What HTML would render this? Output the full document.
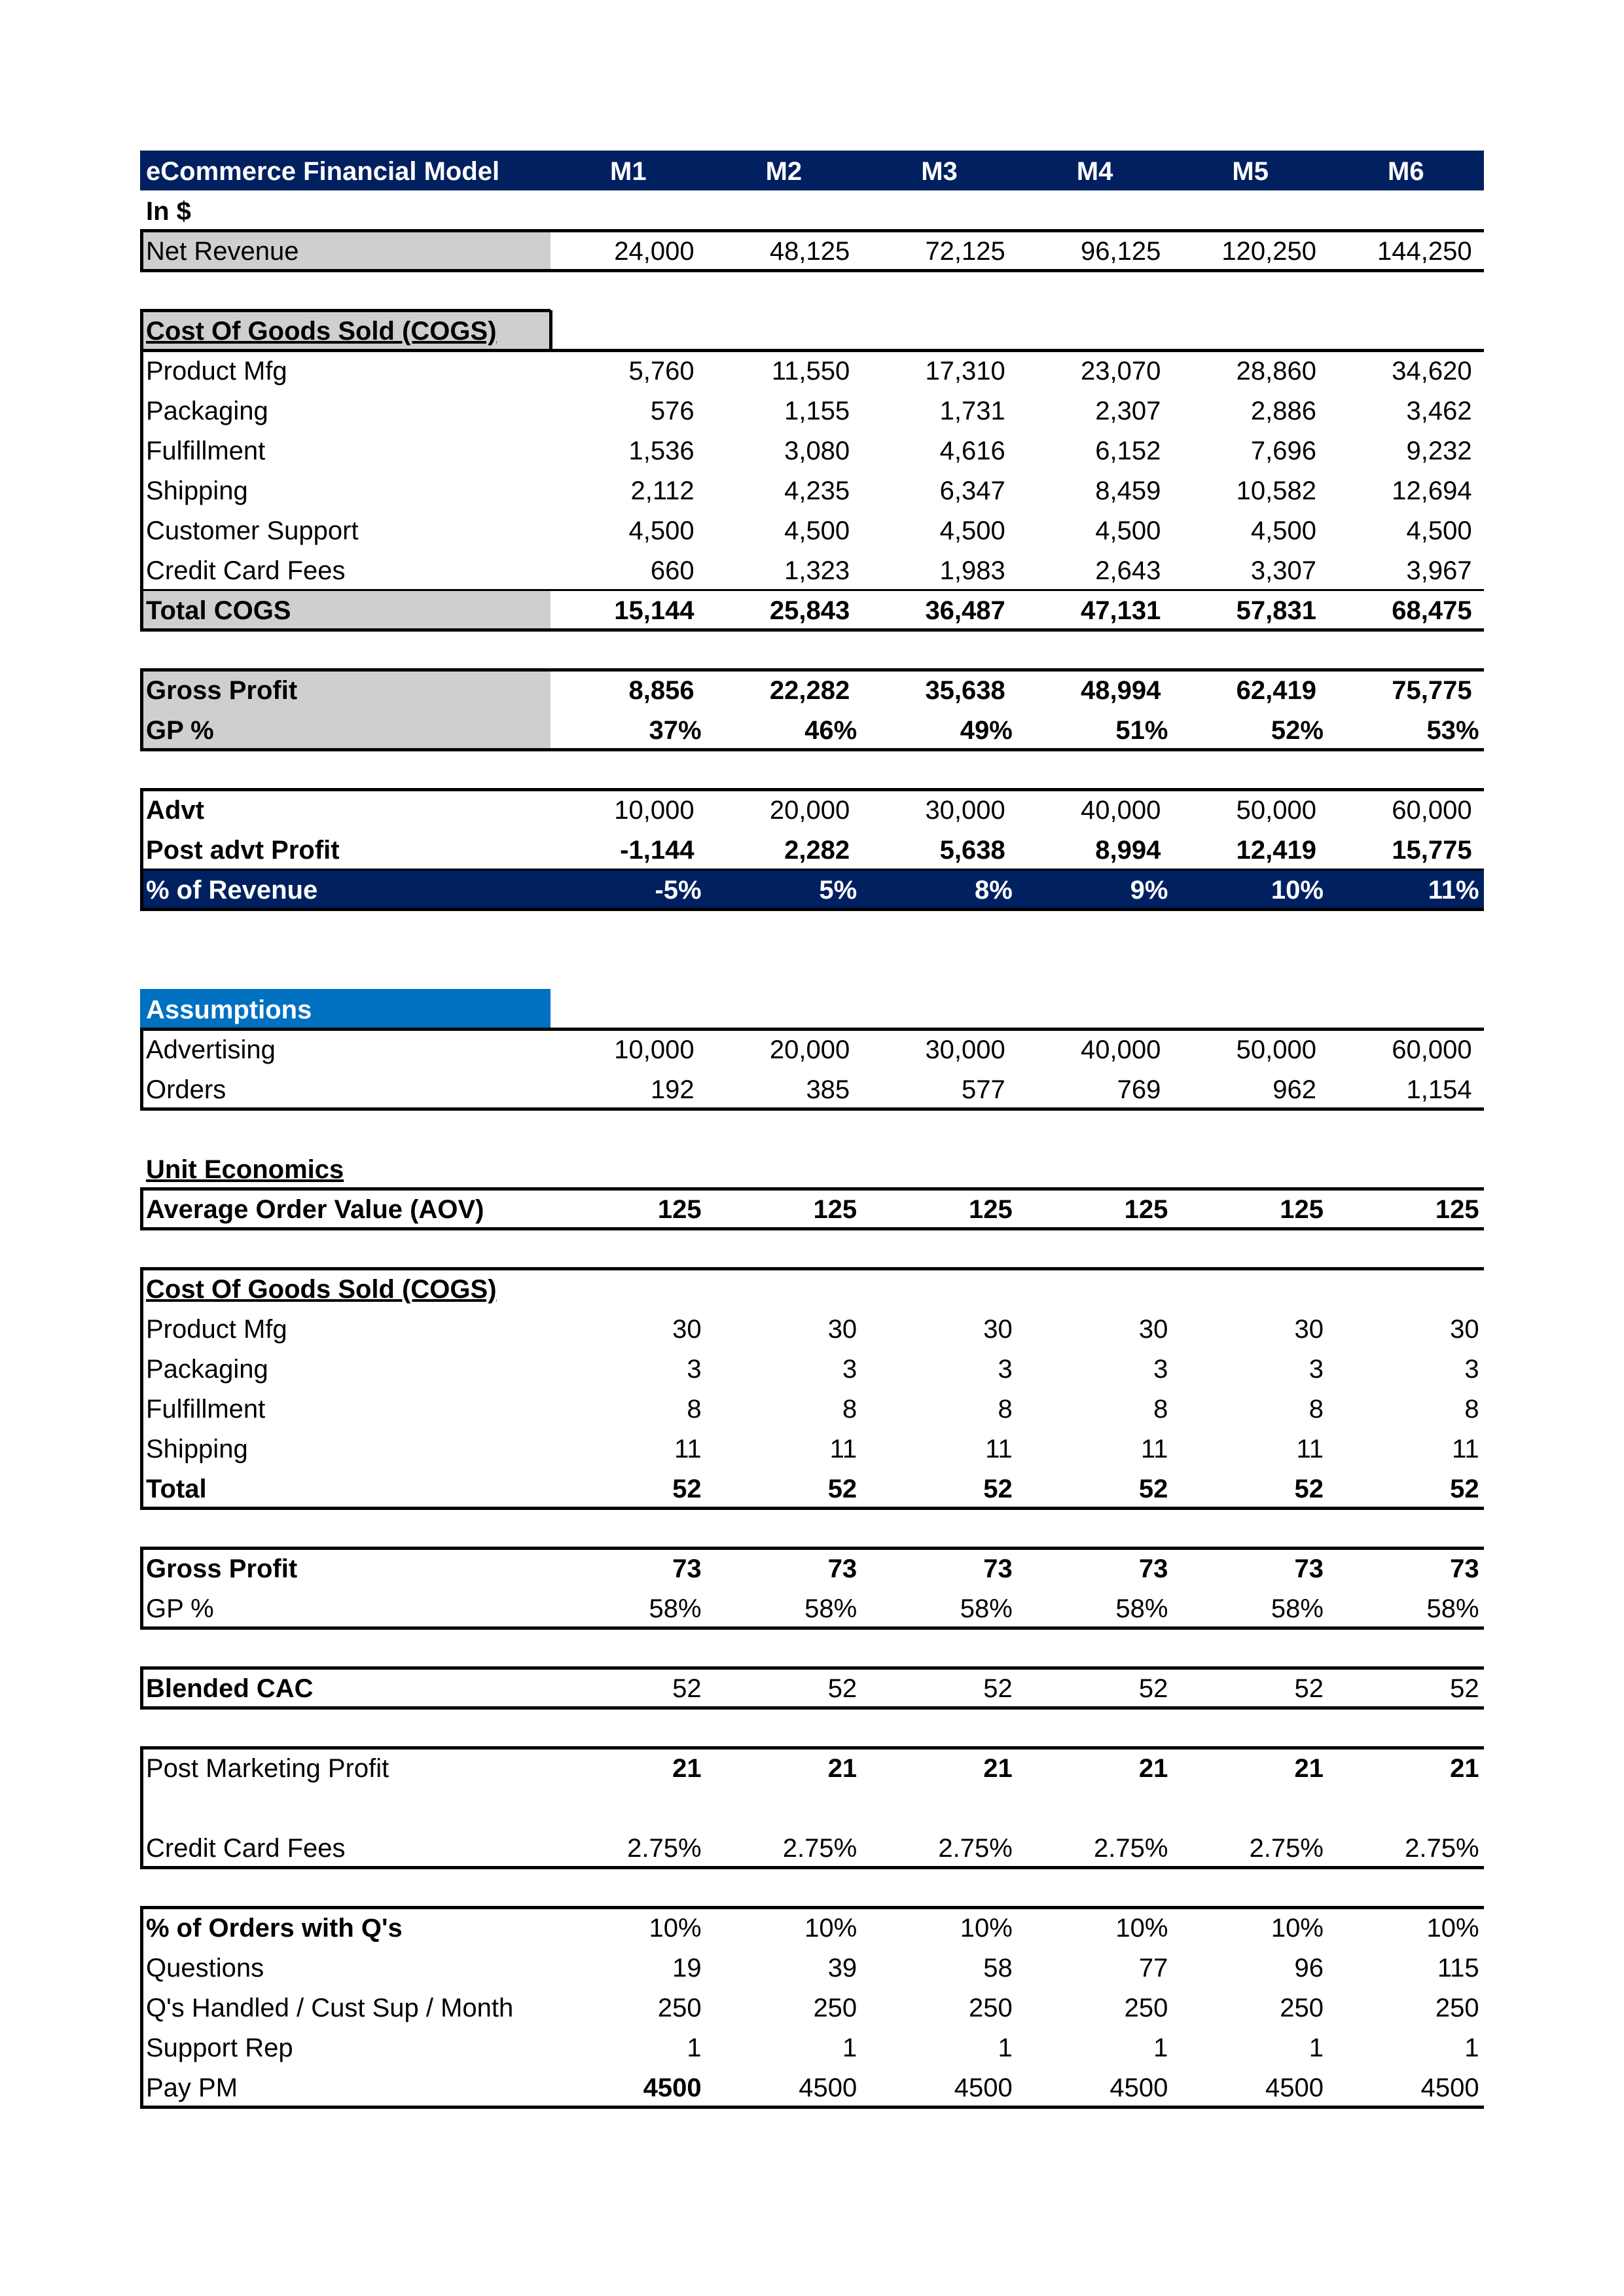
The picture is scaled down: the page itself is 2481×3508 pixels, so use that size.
<!DOCTYPE html>
<html><head><meta charset="utf-8">
<style>
html,body{margin:0;padding:0;background:#fff;}
#sheet{position:relative;width:2481px;height:3508px;overflow:hidden;font-family:"Liberation Sans",Arial,sans-serif;font-size:40px;color:#000;}
.cell{position:absolute;height:61px;line-height:61px;white-space:nowrap;box-sizing:border-box;padding-top:2px;}
.lab{padding-left:9px;}
.num{text-align:right;}
.hl{position:absolute;background:#000;}
.bg{position:absolute;}
</style></head>
<body>
<div id="sheet"></div>
<script>
const months = ["M1","M2","M3","M4","M5","M6"];
const netRevenue = [24000,48125,72125,96125,120250,144250];
const productMfg = [5760,11550,17310,23070,28860,34620];
const packaging = [576,1155,1731,2307,2886,3462];
const fulfillment = [1536,3080,4616,6152,7696,9232];
const shipping = [2112,4235,6347,8459,10582,12694];
const customerSupport = [4500,4500,4500,4500,4500,4500];
const creditCardFees = [660,1323,1983,2643,3307,3967];
const totalCogs = [15144,25843,36487,47131,57831,68475];
const grossProfit = [8856,22282,35638,48994,62419,75775];
const gpPct = ["37%","46%","49%","51%","52%","53%"];
const advt = [10000,20000,30000,40000,50000,60000];
const postAdvtProfit = [-1144,2282,5638,8994,12419,15775];
const pctRevenue = ["-5%","5%","8%","9%","10%","11%"];
const advertising = [10000,20000,30000,40000,50000,60000];
const orders = [192,385,577,769,962,1154];
const aov = [125,125,125,125,125,125];
const uProductMfg = [30,30,30,30,30,30];
const uPackaging = [3,3,3,3,3,3];
const uFulfillment = [8,8,8,8,8,8];
const uShipping = [11,11,11,11,11,11];
const uTotal = [52,52,52,52,52,52];
const uGrossProfit = [73,73,73,73,73,73];
const uGpPct = ["58%","58%","58%","58%","58%","58%"];
const blendedCac = [52,52,52,52,52,52];
const postMarketingProfit = [21,21,21,21,21,21];
const ccFeePct = ["2.75%","2.75%","2.75%","2.75%","2.75%","2.75%"];
const pctOrdersQ = ["10%","10%","10%","10%","10%","10%"];
const questions = [19,39,58,77,96,115];
const qHandled = [250,250,250,250,250,250];
const supportRep = [1,1,1,1,1,1];
const payPm = [4500,4500,4500,4500,4500,4500];

const S = document.getElementById('sheet');
const X0=214, LABW=627, COLW=237.6, Y0=230, RH=61, XR=2267;
function rowY(i){return Y0+RH*i;}
function fmt(v,comma){ if(typeof v==='string') return v; return comma? v.toLocaleString('en-US') : String(v);}
function slug(s){return s.toLowerCase().replace(/[^a-z0-9]+/g,'-').replace(/^-|-$/g,'');}

function bg(i,x,w,color,n){
  const d=document.createElement('div'); d.className='bg';
  d.style.left=x+'px'; d.style.top=rowY(i)+'px'; d.style.width=w+'px'; d.style.height=RH+'px'; d.style.background=color;
  
  
  S.appendChild(d);
}
function hline(y,x1,x2,t,n){
  const d=document.createElement('div'); d.className='hl';
  d.style.left=x1+'px'; d.style.top=(y-Math.floor(t/2))+'px'; d.style.width=(x2-x1)+'px'; d.style.height=t+'px';
  
  
  S.appendChild(d);
}
function vline(x,y1,y2,t,n){
  const d=document.createElement('div'); d.className='hl';
  d.style.left=x+'px'; d.style.top=y1+'px'; d.style.width=t+'px'; d.style.height=(y2-y1)+'px';
  
  
  S.appendChild(d);
}
function label(i,text,opt){
  opt=opt||{};
  const d=document.createElement('div'); d.className='cell lab';
  d.style.left=X0+'px'; d.style.top=rowY(i)+'px'; d.style.width=LABW+'px';
  if(opt.bold) d.style.fontWeight='bold';
  if(opt.u) d.style.textDecoration='underline';
  if(opt.color) d.style.color=opt.color;
  d.textContent=text;
  
  
  S.appendChild(d);
}
function values(i,arr,name,opt){
  opt=opt||{};
  arr.forEach((v,k)=>{
    const d=document.createElement('div'); d.className='cell num';
    d.style.left=(X0+LABW+COLW*k)+'px'; d.style.top=rowY(i)+'px'; d.style.width=COLW+'px';
    const comma = opt.comma;
    d.style.paddingRight=(comma?18:7)+'px';
    if(opt.bold || (opt.boldFirst && k===0)) d.style.fontWeight='bold';
    if(opt.color) d.style.color=opt.color;
    d.textContent=fmt(v,comma);
    
    
    S.appendChild(d);
  });
}

bg(0,X0,XR-X0,'#002060','header-bar');
bg(2,X0,LABW,'#d0cece','net-revenue-label-bg');
bg(4,X0,LABW,'#d0cece','cogs-header-bg');
bg(11,X0,LABW,'#d0cece','total-cogs-label-bg');
bg(13,X0,LABW,'#d0cece','gross-profit-label-bg');
bg(14,X0,LABW,'#d0cece','gp-pct-label-bg');
bg(18,X0,XR-X0,'#002060','pct-revenue-bar');
bg(21,X0,LABW,'#0070c0','assumptions-header-bg');

label(0,'eCommerce Financial Model',{bold:true,color:'#fff'});
months.forEach((m,k)=>{
  const d=document.createElement('div'); d.className='cell';
  d.style.left=(X0+LABW+COLW*k)+'px'; d.style.top=rowY(0)+'px'; d.style.width=COLW+'px';
  d.style.textAlign='center'; d.style.color='#fff'; d.style.fontWeight='bold';
  d.textContent=m;
  
  
  S.appendChild(d);
});
label(1,'In $',{bold:true});
label(2,'Net Revenue'); values(2,netRevenue,'net-revenue',{comma:true});
label(4,'Cost Of Goods Sold (COGS)',{bold:true,u:true});
label(5,'Product Mfg'); values(5,productMfg,'product-mfg',{comma:true});
label(6,'Packaging'); values(6,packaging,'packaging',{comma:true});
label(7,'Fulfillment'); values(7,fulfillment,'fulfillment',{comma:true});
label(8,'Shipping'); values(8,shipping,'shipping',{comma:true});
label(9,'Customer Support'); values(9,customerSupport,'customer-support',{comma:true});
label(10,'Credit Card Fees'); values(10,creditCardFees,'credit-card-fees',{comma:true});
label(11,'Total COGS',{bold:true}); values(11,totalCogs,'total-cogs',{comma:true,bold:true});
label(13,'Gross Profit',{bold:true}); values(13,grossProfit,'gross-profit',{comma:true,bold:true});
label(14,'GP %',{bold:true}); values(14,gpPct,'gp-pct',{bold:true});
label(16,'Advt',{bold:true}); values(16,advt,'advt',{comma:true});
label(17,'Post advt Profit',{bold:true}); values(17,postAdvtProfit,'post-advt-profit',{comma:true,bold:true});
label(18,'% of Revenue',{bold:true,color:'#fff'}); values(18,pctRevenue,'pct-revenue',{bold:true,color:'#fff'});
label(21,'Assumptions',{bold:true,color:'#fff'});
label(22,'Advertising'); values(22,advertising,'advertising',{comma:true});
label(23,'Orders'); values(23,orders,'orders',{comma:true});
label(25,'Unit Economics',{bold:true,u:true});
label(26,'Average Order Value (AOV)',{bold:true}); values(26,aov,'aov',{bold:true});
label(28,'Cost Of Goods Sold (COGS)',{bold:true,u:true});
label(29,'Product Mfg'); values(29,uProductMfg,'unit-product-mfg');
label(30,'Packaging'); values(30,uPackaging,'unit-packaging');
label(31,'Fulfillment'); values(31,uFulfillment,'unit-fulfillment');
label(32,'Shipping'); values(32,uShipping,'unit-shipping');
label(33,'Total',{bold:true}); values(33,uTotal,'unit-total',{bold:true});
label(35,'Gross Profit',{bold:true}); values(35,uGrossProfit,'unit-gross-profit',{bold:true});
label(36,'GP %'); values(36,uGpPct,'unit-gp-pct');
label(38,'Blended CAC',{bold:true}); values(38,blendedCac,'blended-cac');
label(40,'Post Marketing Profit'); values(40,postMarketingProfit,'post-marketing-profit',{bold:true});
label(42,'Credit Card Fees'); values(42,ccFeePct,'cc-fee-pct');
label(44,"% of Orders with Q's",{bold:true}); values(44,pctOrdersQ,'pct-orders-q');
label(45,'Questions'); values(45,questions,'questions');
label(46,"Q's Handled / Cust Sup / Month"); values(46,qHandled,'q-handled');
label(47,'Support Rep'); values(47,supportRep,'support-rep');
label(48,'Pay PM'); values(48,payPm,'pay-pm',{boldFirst:true});

const T=5;
function box(r1,r2,n){
  hline(rowY(r1),X0,XR,T,n+'-top'); hline(rowY(r2+1),X0,XR,T,n+'-bottom');
  vline(X0,rowY(r1),rowY(r2+1),T,n+'-left');
}
box(2,2,'net-revenue-box');
hline(rowY(4),X0,X0+LABW,T,'cogs-header-top');
vline(X0+LABW-2,rowY(4),rowY(5),T,'cogs-header-right');
box(5,11,'cogs-box'); hline(rowY(11),X0,XR,3,'total-cogs-top');
vline(X0,rowY(4),rowY(5),T,'cogs-header-left');
box(13,14,'gross-profit-box');
box(16,18,'advt-box'); hline(rowY(18),X0,XR,3,'pct-revenue-top');
hline(rowY(22),X0,XR,T,'assumptions-top'); hline(rowY(24),X0,XR,T,'assumptions-bottom');
vline(X0,rowY(22),rowY(24),T,'assumptions-left');
box(26,26,'aov-box');
box(28,33,'unit-cogs-box');
box(35,36,'unit-gp-box');
box(38,38,'cac-box');
box(40,42,'pmp-box');
box(44,48,'questions-box');
</script>
</body></html>
